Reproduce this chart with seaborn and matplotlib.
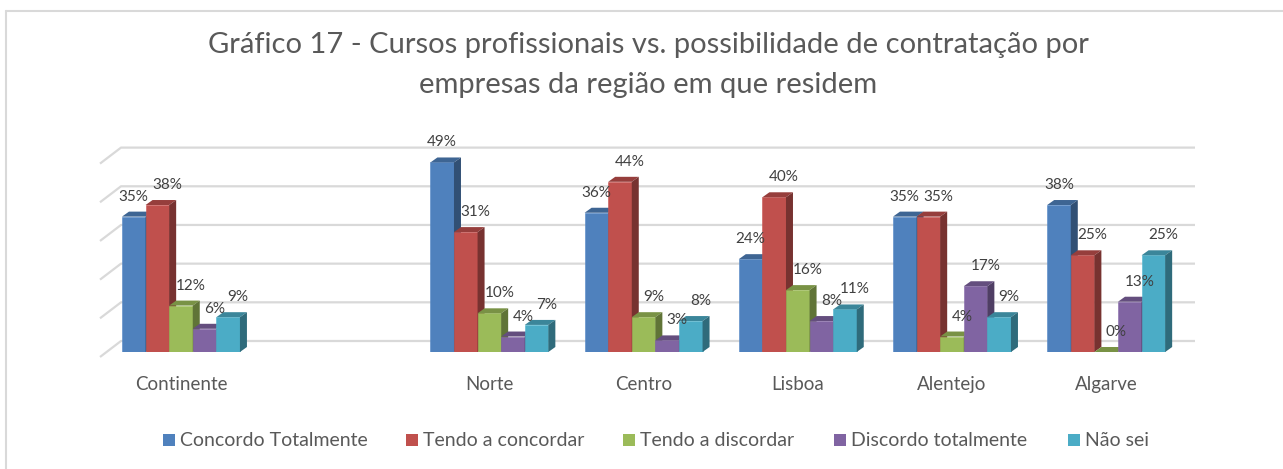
import numpy as np
import pandas as pd
import matplotlib
matplotlib.use("Agg")
import matplotlib.pyplot as plt
from matplotlib.patches import Polygon, Rectangle
from matplotlib.lines import Line2D
import seaborn as sns

# ---------------- data ----------------
regions = ["Continente", " ", "Norte", "Centro", "Lisboa", "Alentejo", "Algarve"]
series = ["Concordo Totalmente", "Tendo a concordar", "Tendo a discordar",
          "Discordo totalmente", "Não sei"]
concordo_totalmente = [35, 49, 36, 24, 35, 38]
tendo_a_concordar = [38, 31, 44, 40, 35, 25]
tendo_a_discordar = [12, 10, 9, 16, 4, 0]
discordo_totalmente = [6, 4, 3, 8, 17, 13]
nao_sei = [9, 7, 8, 11, 9, 25]
data_regions = ["Continente", "Norte", "Centro", "Lisboa", "Alentejo", "Algarve"]
y_ticks = [0, 10, 20, 30, 40, 50]
title_lines = ["Gráfico 17 - Cursos profissionais vs. possibilidade de contratação por",
               "empresas da região em que residem"]

colors = ["#4F81BD", "#C0504D", "#9BBB59", "#8064A2", "#4BACC6"]

rows = []
for s, vals in zip(series, [concordo_totalmente, tendo_a_concordar, tendo_a_discordar,
                            discordo_totalmente, nao_sei]):
    for r, v in zip(data_regions, vals):
        rows.append({"Região": r, "Série": s, "Valor": v})
df = pd.DataFrame(rows)

# ---------------- style ----------------
sns.set_theme(style="white")
plt.rcParams["font.family"] = ["Lato", "DejaVu Sans"]
TXT = "#595959"

W, H = 1283, 469
fig = plt.figure(figsize=(W / 100, H / 100), dpi=100)

ax_left, ax_right = 100, 1195
ax_zero_y, ax_top_y = 352, 147
ax = fig.add_axes([ax_left / W, (H - ax_zero_y) / H,
                   (ax_right - ax_left) / W, (ax_zero_y - ax_top_y) / H])

sns.barplot(data=df, x="Região", y="Valor", hue="Série", order=regions,
            hue_order=series, palette=colors, width=0.765, gap=0,
            saturation=1, ax=ax, legend=False, errorbar=None)

x0l, x1l = -0.525, 6.576
ax.set_xlim(x0l, x1l)
ax.set_ylim(0, 53)
ax.axis("off")

# depth of 3D bars (data units)
px_x = (x1l - x0l) / (ax_right - ax_left)
px_y = 53 / (ax_zero_y - ax_top_y)
bdx, bdy = 7 * px_x, 5 * px_y
wall_dx, wall_back, wall_front = 21 * px_x, 11 * px_y, -5 * px_y

# gridlines (back wall + floor slant)
for v in y_ticks:
    ax.plot([x0l, x0l + wall_dx, x1l], [v + wall_front, v + wall_back, v + wall_back],
            color="#D9D9D9", lw=1.6, zorder=0, clip_on=False, solid_capstyle="butt")


def shade(c, f):
    rgb = np.array(matplotlib.colors.to_rgb(c))
    return tuple(np.clip(rgb * f, 0, 1))


label_dx_px = [0, 10, 10, 10, 10]
bars = [p for p in ax.patches if p.get_height() == p.get_height()]
for p in bars:
    x0 = p.get_x(); w = p.get_width(); h = p.get_height()
    fc = p.get_facecolor()
    z = 2 + x0
    p.set_zorder(z)
    p.set_edgecolor(shade(fc, 1.05))
    p.set_linewidth(0.4)
    top = Polygon([(x0, h), (x0 + w, h), (x0 + w + bdx, h + bdy), (x0 + bdx, h + bdy)],
                  closed=True, facecolor=shade(fc, 0.78), edgecolor="none", zorder=z)
    side = Polygon([(x0 + w, 0), (x0 + w + bdx, bdy), (x0 + w + bdx, h + bdy), (x0 + w, h)],
                   closed=True, facecolor=shade(fc, 0.62), edgecolor="none", zorder=z)
    ax.add_patch(top); ax.add_patch(side)

# value labels
hex_colors = [c.upper() for c in colors]
for p in bars:
    x0 = p.get_x(); w = p.get_width(); h = p.get_height()
    rgb = matplotlib.colors.to_hex(p.get_facecolor()[:3]).upper()
    k = hex_colors.index(rgb) if rgb in hex_colors else 1
    ax.annotate(f"{int(round(h))}%", (x0 + w / 2, h), xytext=(label_dx_px[k] * 0.72, 16 * 0.72),
                textcoords="offset points", ha="center", va="baseline",
                fontsize=11, color="#404040", zorder=50, annotation_clip=False)

# category labels
for i, r in enumerate(regions):
    if r.strip():
        ax.text(i, -8.3, r, ha="center", va="center", fontsize=13.5, color=TXT,
                clip_on=False)

# title
for line, base in zip(title_lines, [53, 93]):
    fig.text(0.5055, 1 - base / H, line, ha="center", va="baseline", fontsize=21,
             color=TXT)

# legend (manual, Excel-like)
leg_sq_x = [163, 406, 623, 834, 1068]
leg_y = 440
sq = 12
for c, s, xs in zip(colors, series, leg_sq_x):
    fig.add_artist(Rectangle((xs / W, (H - leg_y - sq / 2) / H), sq / W, sq / H,
                             facecolor=c, edgecolor="none", transform=fig.transFigure))
    fig.text((xs + 17) / W, 1 - leg_y / H, s, ha="left", va="center", fontsize=14,
             color=TXT)

# chart border (top & left visible)
fig.add_artist(Line2D([6 / W, 1], [1 - 11 / H, 1 - 11 / H], color="#D9D9D9", lw=1.5,
                      transform=fig.transFigure))
fig.add_artist(Line2D([6 / W, 6 / W], [0, 1 - 11 / H], color="#D9D9D9", lw=1.5,
                      transform=fig.transFigure))

fig.savefig("out.png", dpi=100, facecolor="white")
